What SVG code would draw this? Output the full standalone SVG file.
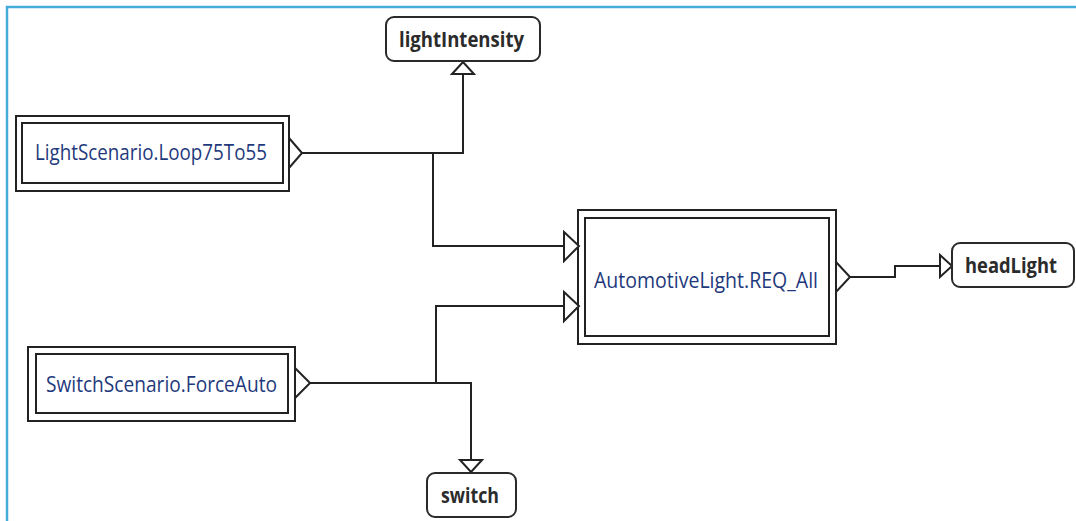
<svg xmlns="http://www.w3.org/2000/svg" width="1076" height="521" viewBox="0 0 1076 521">
<style>
.frame{fill:none;stroke:#45acd9;stroke-width:2.5}
.outer,.inner{fill:#fff;stroke:#222;stroke-width:2}
.port{fill:#fff;stroke:#222;stroke-width:2;stroke-linejoin:miter}
.rnode{fill:#fff;stroke:#2a2a2a;stroke-width:2}
.wire{fill:none;stroke:#222;stroke-width:2}
.blue{font-family:"Open Sans","Noto Sans",sans-serif;font-size:21px;fill:#1f3a7c}
.bold{font-family:"Open Sans","Noto Sans",sans-serif;font-size:21px;font-weight:bold;fill:#2b2b2b}
</style>
<defs>
<marker id="arrow" viewBox="0 0 12 22" refX="12" refY="11" markerWidth="12" markerHeight="22" markerUnits="userSpaceOnUse" orient="auto" overflow="visible">
<path d="M0,0 L12,11 L0,22 Z" fill="#fff" stroke="#222" stroke-width="2" stroke-linejoin="miter"/>
</marker>
</defs>
<rect class="frame" x="7" y="7" width="1100" height="600"/>
<g id="connectors">
<path class="wire" d="M302,153 H463 V62" marker-end="url(#arrow)"/>
<path class="wire" d="M433,153 V246 H564"/>
<path class="wire" d="M310,383 H471 V472" marker-end="url(#arrow)"/>
<path class="wire" d="M436,383 V306 H564"/>
<path class="wire" d="M850,277 H895 V266 H952" marker-end="url(#arrow)"/>
</g>
<g id="lightIntensity">
<rect class="rnode" x="386" y="17" width="154" height="44" rx="8"/>
<text class="bold" x="399" y="47" textLength="125" lengthAdjust="spacingAndGlyphs">lightIntensity</text>
</g>
<g id="LightScenario">
<rect class="outer" x="16" y="116" width="273" height="75"/>
<rect class="inner" x="22" y="123" width="261" height="60"/>
<polygon class="port" points="289,138 302,153 289,168"/>
<text class="blue" x="35" y="160" textLength="232" lengthAdjust="spacingAndGlyphs">LightScenario.Loop75To55</text>
</g>
<g id="AutomotiveLight">
<rect class="outer" x="578" y="210" width="258" height="134"/>
<rect class="inner" x="585" y="218" width="244" height="118"/>
<polygon class="port" points="564,232 579,246 564,261"/>
<polygon class="port" points="564,292 579,306 564,321"/>
<polygon class="port" points="836,262 850,277 836,292"/>
<text class="blue" x="594" y="288" textLength="224" lengthAdjust="spacingAndGlyphs">AutomotiveLight.REQ_All</text>
</g>
<g id="headLight">
<rect class="rnode" x="952" y="243" width="122" height="44" rx="8"/>
<text class="bold" x="965" y="273" textLength="92" lengthAdjust="spacingAndGlyphs">headLight</text>
</g>
<g id="SwitchScenario">
<rect class="outer" x="28" y="347" width="267" height="74"/>
<rect class="inner" x="36" y="354" width="252" height="59"/>
<polygon class="port" points="295,368 310,383 295,398"/>
<text class="blue" x="46" y="392" textLength="231" lengthAdjust="spacingAndGlyphs">SwitchScenario.ForceAuto</text>
</g>
<g id="switch">
<rect class="rnode" x="427" y="473" width="89" height="44" rx="8"/>
<text class="bold" x="441" y="503" textLength="58" lengthAdjust="spacingAndGlyphs">switch</text>
</g>
</svg>
